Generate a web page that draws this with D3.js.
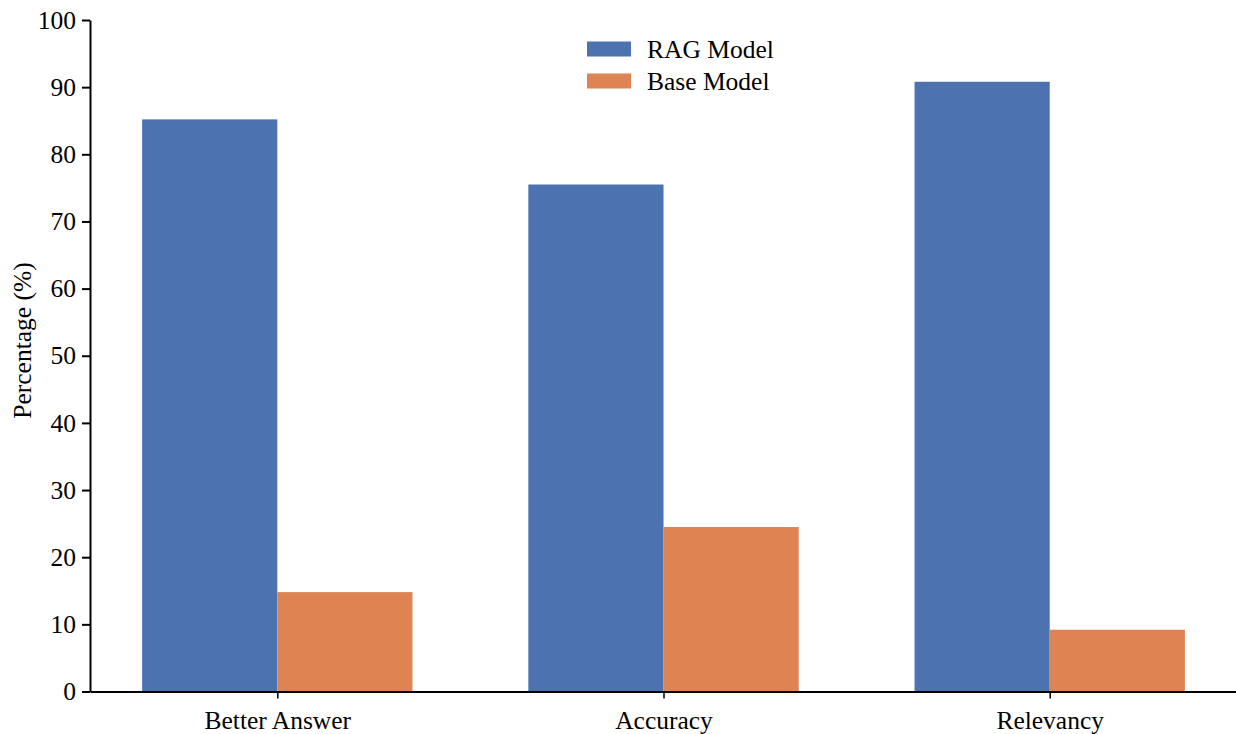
<!DOCTYPE html>
<html>
<head>
<meta charset="utf-8">
<script src="https://cdn.jsdelivr.net/npm/d3@7"></script>
<style>
  html, body { margin: 0; padding: 0; background: #fff; }
  svg { display: block; }
  text { font-family: "Liberation Serif", "Times New Roman", serif; fill: #000; }
</style>
</head>
<body>
<svg id="chart" width="1236" height="734"></svg>
<script>
const categories = ["Better Answer", "Accuracy", "Relevancy"];
const seriesNames = ["RAG Model", "Base Model"];
const ragValues = [85.2, 75.5, 90.8];
const baseValues = [14.8, 24.5, 9.2];
const yTicks = [0, 10, 20, 30, 40, 50, 60, 70, 80, 90, 100];
const colors = ["#4C72B0", "#DD8452"];

(function () {
const FS = "25.5px";
const svg = d3.select("#chart");
const mLeft = 90, mTop = 20, mBottom = 691.5;
const x = d3.scaleLinear().domain([-0.485, 2.5]).range([mLeft, mLeft + 2.985 * 386.2]);
const y = d3.scaleLinear().domain([0, 100]).range([mBottom, mTop]);
const barW = 0.35;

const series = [ragValues, baseValues];
series.forEach((vals, s) => {
  svg.append("g").selectAll("rect").data(vals).join("rect")
    .attr("x", (d, i) => x(i + (s === 0 ? -barW : 0)))
    .attr("width", x(barW) - x(0))
    .attr("y", d => y(d))
    .attr("height", d => y(0) - y(d))
    .attr("fill", colors[s]);
});

// y axis
const yAxis = svg.append("g").attr("transform", `translate(${mLeft},0)`)
  .call(d3.axisLeft(y).tickValues(yTicks).tickSize(8).tickSizeOuter(0).tickPadding(6));
yAxis.select(".domain").attr("stroke", "#000").attr("stroke-width", 2);
yAxis.selectAll(".tick line").attr("stroke", "#000").attr("stroke-width", 2);
yAxis.selectAll(".tick text").style("font-size", FS).attr("fill", "#000")
  .style("font-family", "'Liberation Serif', serif");

// x axis
const xAxis = svg.append("g").attr("transform", `translate(0,${mBottom})`)
  .call(d3.axisBottom(x).tickValues([0, 1, 2]).tickFormat(i => categories[i])
    .tickSize(7).tickSizeOuter(0).tickPadding(12));
xAxis.select(".domain").attr("stroke", "#000").attr("stroke-width", 2);
xAxis.selectAll(".tick line").attr("stroke", "#000").attr("stroke-width", 1.5);
xAxis.selectAll(".tick text").style("font-size", FS).attr("fill", "#000")
  .style("font-family", "'Liberation Serif', serif");

// y label
svg.append("text")
  .attr("transform", "translate(31,340.5) rotate(-90)")
  .attr("text-anchor", "middle")
  .style("font-size", FS)
  .text("Percentage (%)");

// legend
const legend = svg.append("g");
seriesNames.forEach((name, i) => {
  legend.append("rect")
    .attr("x", 587).attr("y", 41.5 + i * 32)
    .attr("width", 44).attr("height", 15)
    .attr("fill", colors[i]);
  legend.append("text")
    .attr("x", 647).attr("y", 49.5 + i * 32)
    .attr("dy", "0.35em")
    .style("font-size", FS)
    .text(name);
});
})();
</script>
</body>
</html>
